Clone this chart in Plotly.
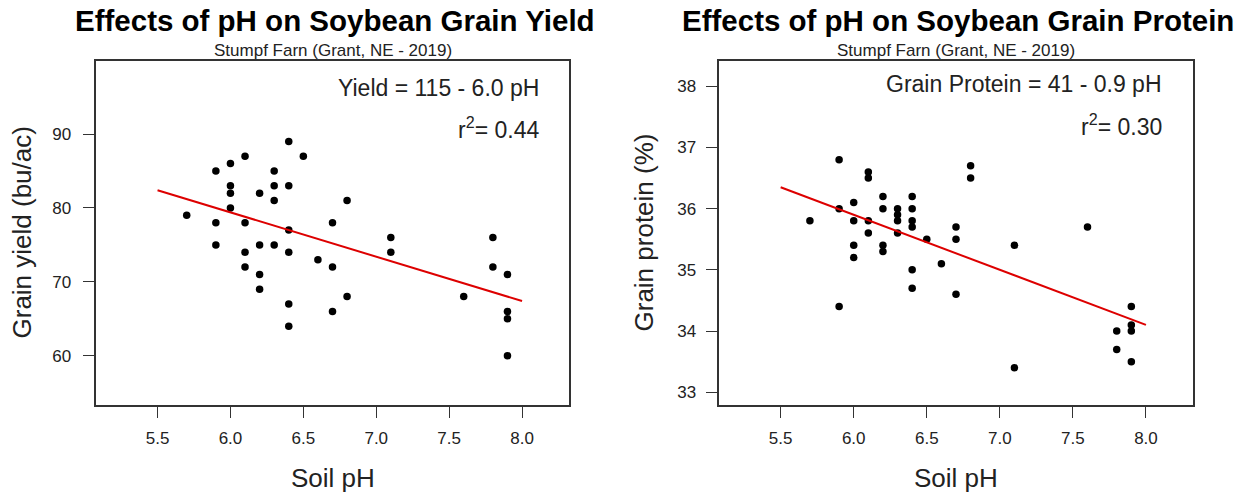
import plotly.graph_objects as go

# ---- data ----
yield_ph = [5.7, 5.9, 5.9, 5.9, 6.0, 6.0, 6.0, 6.0, 6.1, 6.1, 6.1, 6.1,
            6.2, 6.2, 6.2, 6.2, 6.3, 6.3, 6.3, 6.3, 6.4, 6.4, 6.4, 6.4, 6.4, 6.4,
            6.5, 6.6, 6.7, 6.7, 6.7, 6.8, 6.8, 7.1, 7.1, 7.6, 7.8, 7.8,
            7.9, 7.9, 7.9, 7.9]
yield_val = [79, 85, 78, 75, 86, 83, 82, 80, 87, 78, 74, 72,
             82, 75, 71, 69, 85, 83, 81, 75, 89, 83, 77, 74, 67, 64,
             87, 73, 78, 72, 66, 81, 68, 76, 74, 68, 76, 72,
             71, 66, 65, 60]

protein_ph = [5.7, 5.9, 5.9, 5.9, 6.0, 6.0, 6.0, 6.0, 6.1, 6.1, 6.1, 6.1,
              6.2, 6.2, 6.2, 6.2, 6.3, 6.3, 6.3, 6.3, 6.4, 6.4, 6.4, 6.4, 6.4, 6.4,
              6.5, 6.6, 6.7, 6.7, 6.7, 6.8, 6.8, 7.1, 7.1, 7.6, 7.8, 7.8,
              7.9, 7.9, 7.9, 7.9]
protein_val = [35.8, 36.8, 36.0, 34.4, 36.1, 35.8, 35.4, 35.2, 36.6, 36.5, 35.8, 35.6,
               36.2, 36.0, 35.4, 35.3, 36.0, 35.9, 35.8, 35.6, 36.2, 36.0, 35.8, 35.7, 35.0, 34.7,
               35.5, 35.1, 35.7, 35.5, 34.6, 36.7, 36.5, 35.4, 33.4, 35.7, 34.0, 33.7,
               34.4, 34.1, 34.0, 33.5]

fit_ph = [5.5, 8.0]
yield_fit = {"intercept": 115.4, "slope": -6.0}
protein_fit = {"intercept": 41.3, "slope": -0.9}

x_ticks = [5.5, 6.0, 6.5, 7.0, 7.5, 8.0]
x_tick_text = ["5.5", "6.0", "6.5", "7.0", "7.5", "8.0"]
yield_ticks = [60, 70, 80, 90]
protein_ticks = [33, 34, 35, 36, 37, 38]

titles = ["Effects of pH on Soybean Grain Yield", "Effects of pH on Soybean Grain Protein"]
subtitle = "Stumpf Farn (Grant, NE - 2019)"
eq_texts = ["Yield = 115 - 6.0 pH", "Grain Protein = 41 - 0.9 pH"]
r2_texts = ["r<sup>2</sup>= 0.44", "r<sup>2</sup>= 0.30"]
y_titles = ["Grain yield (bu/ac)", "Grain protein (%)"]
x_title = "Soil pH"

# ---- layout geometry (pixels) ----
W, H = 1239, 497
FONT = "Liberation Sans, Arial, sans-serif"
boxes = [(96.3, 568.7), (719.3, 1192.7)]
box_top, box_bottom = 60.5, 404.5

def px(x):
    return x / W

def py(y):
    return 1 - y / H

fig = go.Figure()

fits = [yield_fit, protein_fit]
xs = [yield_ph, protein_ph]
ys = [yield_val, protein_val]
for i in range(2):
    xa = "x" if i == 0 else "x2"
    ya = "y" if i == 0 else "y2"
    fig.add_trace(go.Scatter(
        x=xs[i], y=ys[i], mode="markers", xaxis=xa, yaxis=ya,
        marker=dict(color="black", size=7.5, line=dict(width=0)),
        showlegend=False, hoverinfo="skip"))
    f = fits[i]
    fig.add_trace(go.Scatter(
        x=fit_ph, y=[f["intercept"] + f["slope"] * v for v in fit_ph],
        mode="lines", xaxis=xa, yaxis=ya,
        line=dict(color="#dd0000", width=2),
        showlegend=False, hoverinfo="skip"))

axis_common = dict(
    showgrid=False, zeroline=False, showline=True, mirror=True,
    linecolor="#333333", linewidth=1.5,
    ticks="outside", ticklen=12, tickwidth=1.3, tickcolor="#333333",
    tickfont=dict(family=FONT, size=17, color="#222222"),
)

fig.update_layout(
    width=W, height=H, autosize=False,
    margin=dict(l=0, r=0, t=0, b=0),
    paper_bgcolor="white", plot_bgcolor="white",
    xaxis=dict(domain=[px(boxes[0][0]), px(boxes[0][1])], range=[5.08, 8.32],
               tickvals=x_ticks, ticktext=x_tick_text, anchor="y",
               ticklabelstandoff=5, **axis_common),
    yaxis=dict(domain=[py(box_bottom), py(box_top)], range=[53.4, 99.95],
               tickvals=yield_ticks, anchor="x", ticklabelstandoff=8, **axis_common),
    xaxis2=dict(domain=[px(boxes[1][0]), px(boxes[1][1])], range=[5.08, 8.32],
                tickvals=x_ticks, ticktext=x_tick_text, anchor="y2",
                ticklabelstandoff=5, **axis_common),
    yaxis2=dict(domain=[py(box_bottom), py(box_top)], range=[32.80, 38.42],
                tickvals=protein_ticks, anchor="x2", ticklabelstandoff=6, **axis_common),
)

ann = []
eq_y = [(88, 128), (84, 125)]
eq_right = [540.7, 1164]
ytitle_x = [21, 643]
for i in range(2):
    cx = (boxes[i][0] + boxes[i][1]) / 2
    ann.append(dict(text=f"<b>{titles[i]}</b>", x=px(cx + 2), y=py(20), xref="paper", yref="paper",
                    xanchor="center", yanchor="middle", showarrow=False,
                    font=dict(family=FONT, size=29.5, color="black")))
    ann.append(dict(text=subtitle, x=px(cx), y=py(50), xref="paper", yref="paper",
                    xanchor="center", yanchor="middle", showarrow=False,
                    font=dict(family=FONT, size=17, color="#222222")))
    ann.append(dict(text=eq_texts[i], x=px(eq_right[i]), y=py(eq_y[i][0]), xref="paper", yref="paper",
                    xanchor="right", yanchor="middle", showarrow=False,
                    font=dict(family=FONT, size=23, color="#222222")))
    ann.append(dict(text=r2_texts[i], x=px(eq_right[i]), y=py(eq_y[i][1]), xref="paper", yref="paper",
                    xanchor="right", yanchor="middle", showarrow=False,
                    font=dict(family=FONT, size=23, color="#222222")))
    ann.append(dict(text=x_title, x=px(cx), y=py(478), xref="paper", yref="paper",
                    xanchor="center", yanchor="middle", showarrow=False,
                    font=dict(family=FONT, size=26, color="#222222")))
    ann.append(dict(text=y_titles[i], x=px(ytitle_x[i]), y=py((box_top + box_bottom) / 2),
                    xref="paper", yref="paper", textangle=-90,
                    xanchor="center", yanchor="middle", showarrow=False,
                    font=dict(family=FONT, size=26, color="#222222")))
fig.update_layout(annotations=ann)

fig.write_html("out.html")
